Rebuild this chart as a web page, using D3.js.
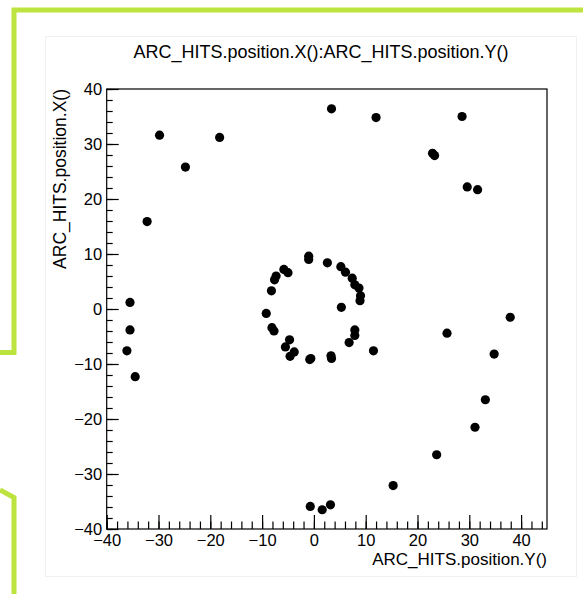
<!DOCTYPE html>
<html>
<head>
<meta charset="utf-8">
<script src="https://cdn.jsdelivr.net/npm/d3@7"></script>
<style>
  html, body { margin: 0; padding: 0; background: #fff; }
  svg { display: block; font-family: "Liberation Sans", Arial, Helvetica, sans-serif; }
</style>
</head>
<body>
<div id="chart"></div>
<script>
// hits: horizontal = position.Y(), vertical = position.X()
const hitY = [
  -29.8, -18.2, -24.8, -32.2, -35.5, -35.5, -36.1, -34.5,
  3.4, 12.0, 28.6, 22.9, 23.3, 29.6, 31.6, 25.7, 37.9, 34.8,
  33.1, 31.1, 23.7, 15.3, -0.7, 1.6, 3.2, 11.5,
  -1.0, -1.0, 2.6, 5.2, 6.1, 7.4, 7.9, 8.7, 9.0, 8.9, 5.3,
  7.9, 7.9, 6.8, 3.3, 3.4, -0.6, -0.8, -4.6, -3.8, -5.5, -4.7,
  -8.1, -7.7, -9.2, -8.2, -7.6, -7.3, -5.8, -5.0
];
const hitX = [
  31.6, 31.2, 25.8, 15.9, 1.2, -3.8, -7.6, -12.3,
  36.4, 34.8, 35.0, 28.3, 27.9, 22.2, 21.7, -4.4, -1.5, -8.2,
  -16.5, -21.5, -26.5, -32.1, -35.9, -36.5, -35.6, -7.6,
  9.6, 9.0, 8.4, 7.7, 6.7, 5.6, 4.4, 3.8, 2.4, 1.5, 0.3,
  -3.8, -4.8, -6.1, -8.5, -9.0, -9.0, -9.2, -8.6, -7.8, -6.9, -5.6,
  -3.4, -4.0, -0.8, 3.3, 5.3, 6.0, 7.2, 6.6
];

const xDomain = [-40, 45];
const yDomain = [-40, 40];
const xMajor = [-40, -30, -20, -10, 0, 10, 20, 30, 40];
const yMajor = [-40, -30, -20, -10, 0, 10, 20, 30, 40];
const xMinor = d3.range(-40, 45, 2);
const yMinor = d3.range(-40, 41, 2);

const titleText = "ARC_HITS.position.X():ARC_HITS.position.Y()";
const xTitle = "ARC_HITS.position.Y()";
const yTitle = "ARC_HITS.position.X()";

const W = 583, H = 594;
const frame = { left: 106.7, right: 547, top: 89, bottom: 529 };
const GREEN = "#bde33f";

const svg = d3.select("#chart").append("svg").attr("width", W).attr("height", H);

// green decoration round the canvas
svg.append("path")
  .attr("d", "M0,352.5 L14,352.5 L14,10 L583,10")
  .attr("fill", "none").attr("stroke", GREEN).attr("stroke-width", 5);
svg.append("path")
  .attr("d", "M0,490 L14,497.5 L14,594")
  .attr("fill", "none").attr("stroke", GREEN).attr("stroke-width", 5);

// canvas panel
svg.append("rect")
  .attr("x", 45.5).attr("y", 36.5).attr("width", 531).attr("height", 540)
  .attr("fill", "#fff").attr("stroke", "#f0f0f0");

const x = d3.scaleLinear().domain(xDomain).range([frame.left, frame.right]);
const y = d3.scaleLinear().domain(yDomain).range([frame.bottom, frame.top]);

// frame
svg.append("rect")
  .attr("x", frame.left).attr("y", frame.top)
  .attr("width", frame.right - frame.left).attr("height", frame.bottom - frame.top)
  .attr("fill", "none").attr("stroke", "#000").attr("stroke-width", 1.2);

// bottom axis
const gx = svg.append("g").attr("transform", `translate(0,${frame.bottom})`);
gx.append("g").call(d3.axisBottom(x).tickValues(xMinor).tickSize(-7.5).tickFormat(""))
  .call(g => g.select(".domain").remove());
gx.append("g").call(d3.axisBottom(x).tickValues(xMajor).tickSize(-14).tickPadding(5).tickFormat(d3.format("d")))
  .call(g => g.select(".domain").remove());

// left axis
const gy = svg.append("g").attr("transform", `translate(${frame.left},0)`);
gy.append("g").call(d3.axisLeft(y).tickValues(yMinor).tickSize(-6).tickFormat(""))
  .call(g => g.select(".domain").remove());
gy.append("g").call(d3.axisLeft(y).tickValues(yMajor).tickSize(-12).tickPadding(4.5).tickFormat(d3.format("d")))
  .call(g => g.select(".domain").remove());

svg.selectAll(".tick line").attr("stroke", "#000").attr("stroke-width", 1.2);
svg.selectAll(".tick text")
  .attr("font-family", "Liberation Sans, Arial, sans-serif")
  .attr("font-size", 16.5).attr("fill", "#000");

// titles
svg.append("text")
  .attr("x", 321).attr("y", 58)
  .attr("text-anchor", "middle").attr("font-size", 18)
  .text(titleText);

svg.append("text")
  .attr("x", frame.right).attr("y", 565)
  .attr("text-anchor", "end").attr("font-size", 17)
  .text(xTitle);

svg.append("text")
  .attr("transform", `translate(66,${frame.top}) rotate(-90)`)
  .attr("text-anchor", "end").attr("font-size", 17.5)
  .text(yTitle);

// markers
const pts = d3.zip(hitY, hitX);
svg.append("g").selectAll("circle")
  .data(pts)
  .join("circle")
  .attr("cx", d => x(d[0]))
  .attr("cy", d => y(d[1]))
  .attr("r", 4.6)
  .attr("fill", "#000");
</script>
</body>
</html>
